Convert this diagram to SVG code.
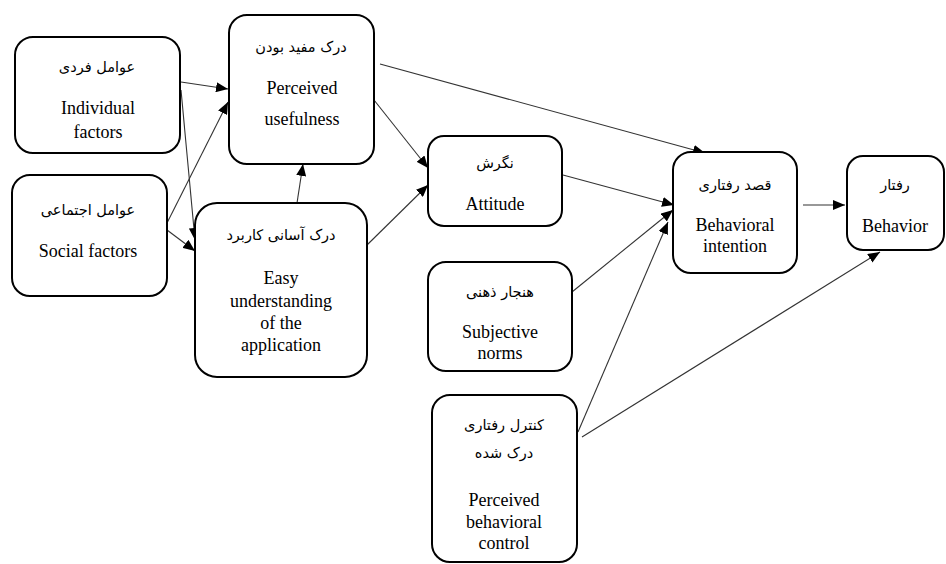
<svg xmlns="http://www.w3.org/2000/svg" width="946" height="564" viewBox="0 0 946 564">
<style>
.box{fill:#fff;stroke:#000;stroke-width:2}
.en{font-family:"Liberation Serif","Times New Roman","DejaVu Serif",serif;font-size:18px;fill:#000;text-anchor:middle}
.fa{font-family:"DejaVu Sans","Noto Sans",sans-serif;font-size:14.5px;fill:#000;text-anchor:middle}
.con line{stroke:#333;stroke-width:1.1;fill:none;marker-end:url(#ah)}
</style>
<defs>
<marker id="ah" markerUnits="userSpaceOnUse" markerWidth="13" markerHeight="10" refX="12" refY="5" orient="auto">
<path d="M0,0 L12,5 L0,10 z" fill="#000"/>
</marker>
</defs>
<rect width="946" height="564" fill="#fff"/>
<g class="con">
<line x1="181" y1="82" x2="228" y2="89"/>
<line x1="167" y1="223" x2="228" y2="102"/>
<line x1="181" y1="90" x2="195" y2="240"/>
<line x1="167" y1="230" x2="195" y2="251"/>
<line x1="297" y1="203" x2="303" y2="164"/>
<line x1="374" y1="100" x2="428" y2="168"/>
<line x1="367" y1="245" x2="428" y2="185"/>
<line x1="380" y1="64" x2="705" y2="153"/>
<line x1="563" y1="175" x2="674" y2="205"/>
<line x1="572" y1="292" x2="673" y2="210"/>
<line x1="578" y1="432" x2="668" y2="222"/>
<line x1="582" y1="437" x2="880" y2="252"/>
<line x1="803" y1="205" x2="845" y2="205"/>
</g>
<g id="individual">
<rect class="box" x="15" y="37" width="165" height="116" rx="18"/>
<text class="fa" x="97" y="72">عوامل فردی</text>
<text class="en" x="98" y="114">Individual</text>
<text class="en" x="98" y="138">factors</text>
</g>
<g id="usefulness">
<rect class="box" x="229" y="15" width="145" height="149" rx="18"/>
<text class="fa" x="301" y="52">درک مفید بودن</text>
<text class="en" x="302" y="94">Perceived</text>
<text class="en" x="302" y="125">usefulness</text>
</g>
<g id="social">
<rect class="box" x="12" y="175" width="155" height="121" rx="18"/>
<text class="fa" x="88" y="215">عوامل اجتماعی</text>
<text class="en" x="88" y="257">Social factors</text>
</g>
<g id="easy">
<rect class="box" x="195" y="203" width="172" height="174" rx="22"/>
<text class="fa" x="281" y="240">درک آسانی کاربرد</text>
<text class="en" x="281" y="284">Easy</text>
<text class="en" x="281" y="307">understanding</text>
<text class="en" x="281" y="329">of the</text>
<text class="en" x="281" y="351">application</text>
</g>
<g id="attitude">
<rect class="box" x="428" y="136" width="134" height="90" rx="16"/>
<text class="fa" x="495" y="168">نگرش</text>
<text class="en" x="495" y="210">Attitude</text>
</g>
<g id="subjective">
<rect class="box" x="428" y="262" width="144" height="109" rx="18"/>
<text class="fa" x="500" y="297">هنجار ذهنی</text>
<text class="en" x="500" y="338">Subjective</text>
<text class="en" x="500" y="359">norms</text>
</g>
<g id="control">
<rect class="box" x="432" y="395" width="145" height="167" rx="18"/>
<text class="fa" x="504" y="430">کنترل رفتاری</text>
<text class="fa" x="504" y="458">درک شده</text>
<text class="en" x="504" y="506">Perceived</text>
<text class="en" x="504" y="528">behavioral</text>
<text class="en" x="504" y="549">control</text>
</g>
<g id="intention">
<rect class="box" x="673" y="152" width="124" height="121" rx="18"/>
<text class="fa" x="735" y="190">قصد رفتاری</text>
<text class="en" x="735" y="231">Behavioral</text>
<text class="en" x="735" y="252">intention</text>
</g>
<g id="behavior">
<rect class="box" x="847" y="156" width="97" height="94" rx="16"/>
<text class="fa" x="895" y="190">رفتار</text>
<text class="en" x="895" y="232">Behavior</text>
</g>
</svg>
